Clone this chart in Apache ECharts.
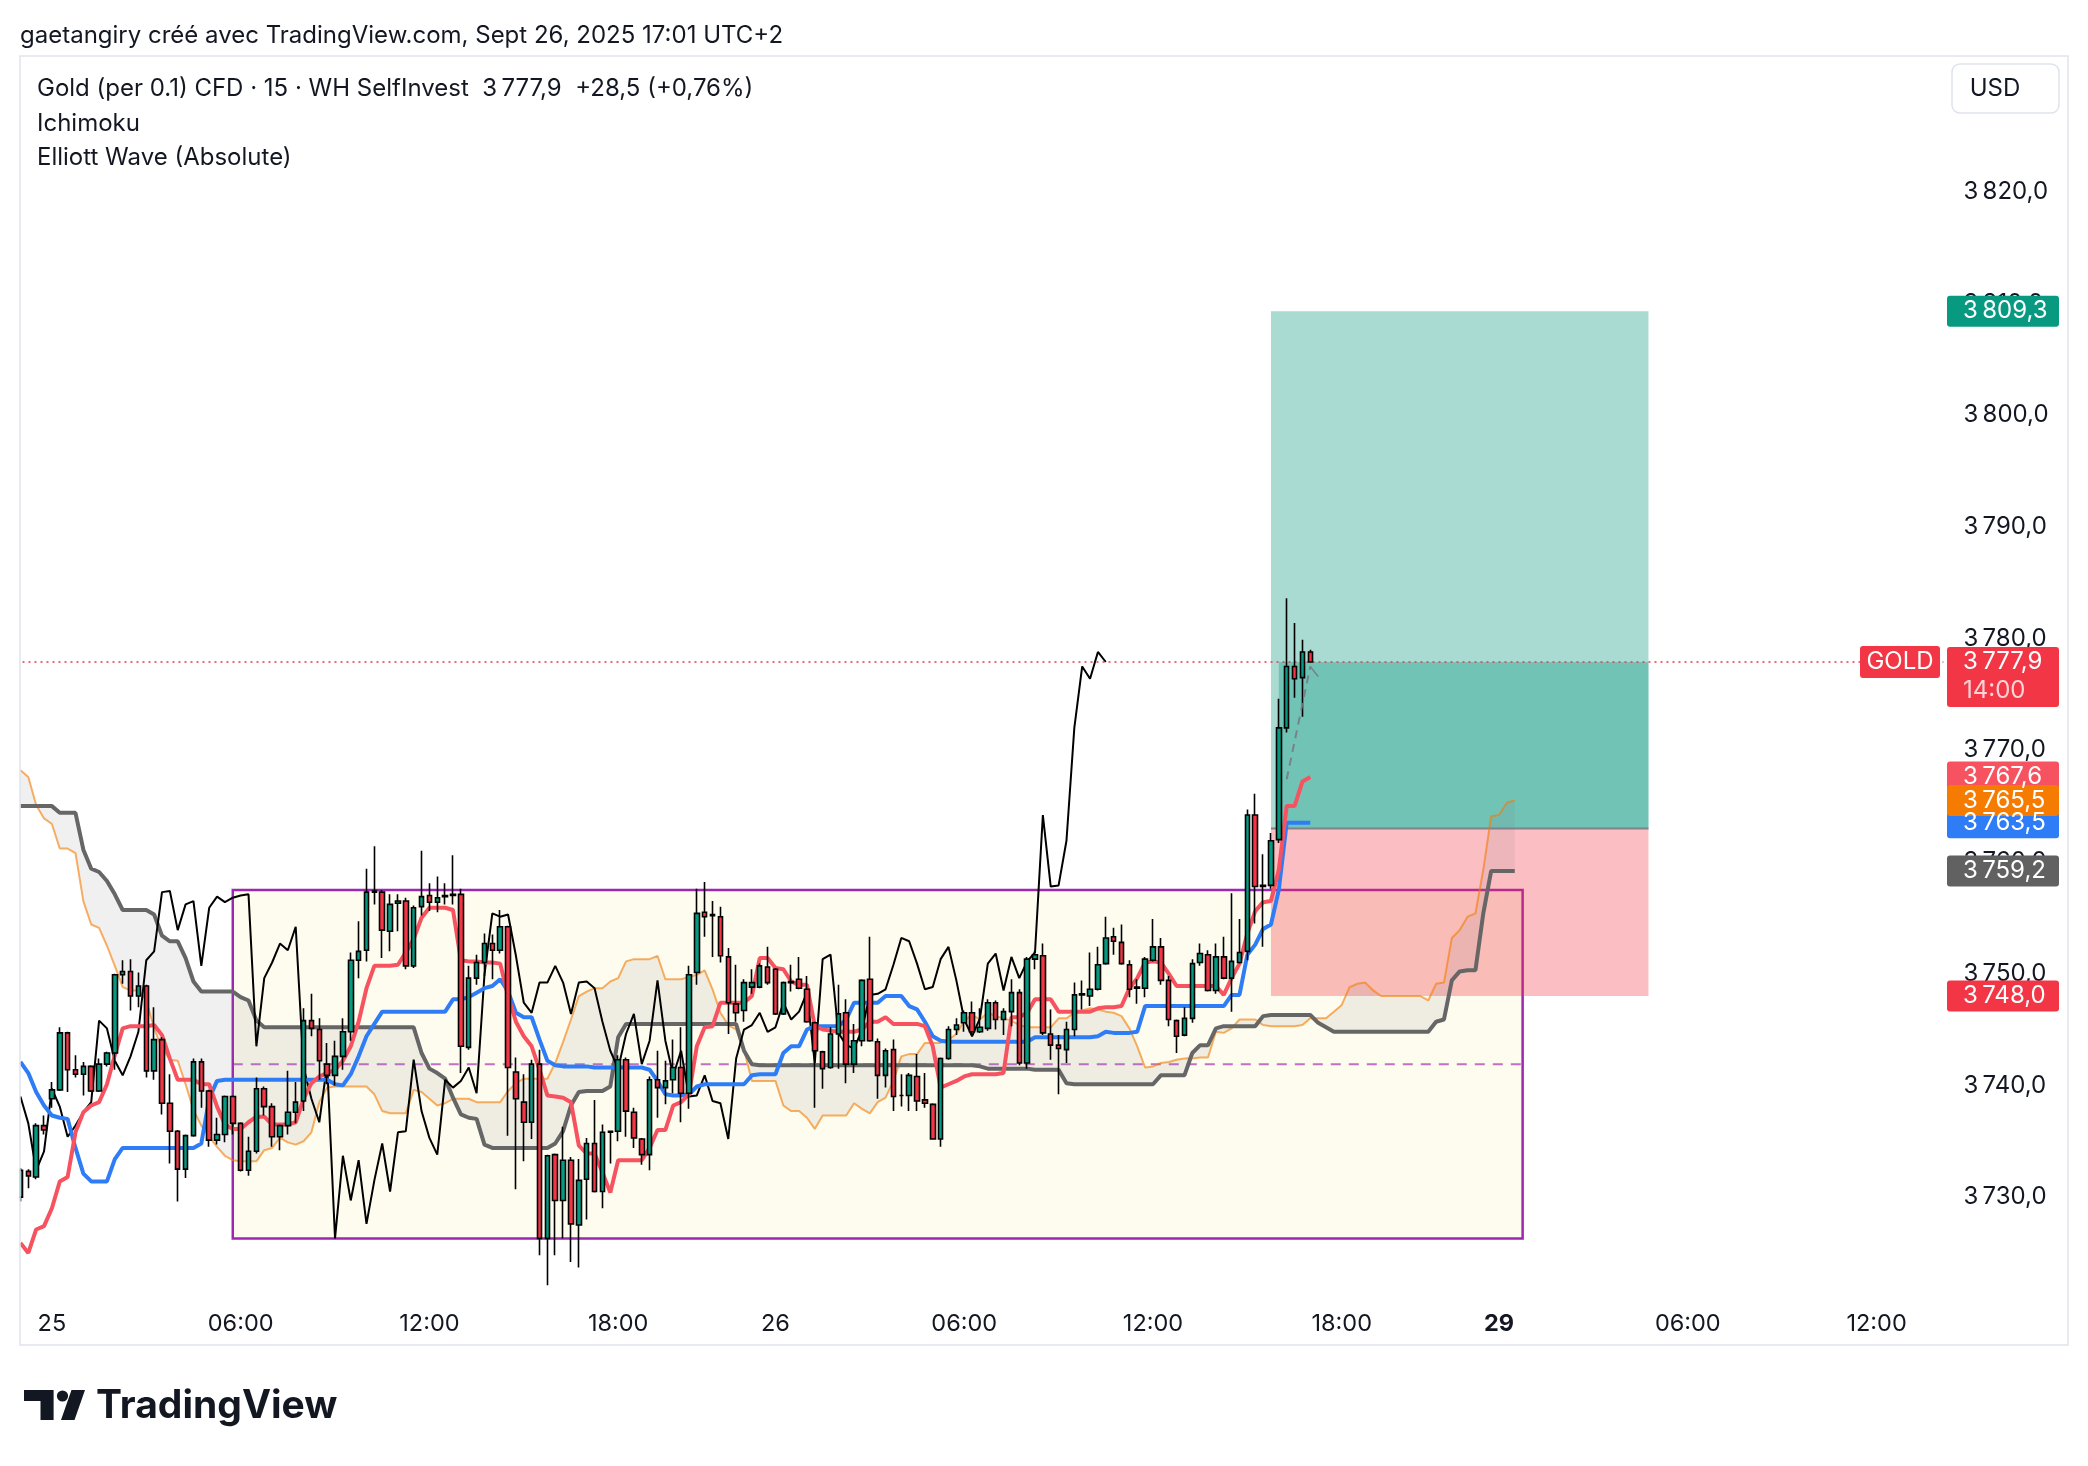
<!DOCTYPE html>
<html><head><meta charset="utf-8">
<script src="https://cdn.jsdelivr.net/npm/echarts@6/dist/echarts.min.js"></script>
<style>html,body{margin:0;padding:0;background:#fff}#c{width:2088px;height:1466px}</style>
</head><body><div id="c"></div><script>
const FONT = 'Inter, "Noto Sans", sans-serif';
function pad(n){return (n<10?'0':'')+n;}

// ---- time axis (15-minute bars; trading sessions) ----
const sessions = [['24', 88, 92], ['25', 0, 92], ['26', 0, 92], ['29', 0, 57]];
const categories = [];
sessions.forEach(s => { for (let q = s[1]; q < s[2]; q++) categories.push(s[0] + ' ' + pad(Math.floor(q/4)) + ':' + pad((q%4)*15)); });
const tickLabels = {'25 00:00':'25','25 06:00':'06:00','25 12:00':'12:00','25 18:00':'18:00','26 00:00':'26','26 06:00':'06:00','26 12:00':'12:00','26 18:00':'18:00','29 00:00':'29','29 06:00':'06:00','29 12:00':'12:00'};
const yTicks = [3730,3740,3750,3760,3770,3780,3790,3800,3810,3820];

// ---- candles (24 Sept 22:00 -> 26 Sept 17:00) ----
const candleOpen = [
3730.0,3732.3,3731.8,3736.4,3738.8,3739.6,3744.7,3741.4,3741.0,3741.7,
3739.5,3741.9,3742.9,3749.9,3750.2,3748.0,3748.9,3741.3,3744.1,3738.4,
3735.9,3732.5,3735.5,3742.1,3739.5,3735.1,3735.6,3739.0,3736.6,3732.4,
3734.1,3739.7,3738.1,3735.4,3736.4,3737.6,3738.6,3745.8,3745.0,3741.9,
3740.9,3742.6,3744.8,3751.2,3752.1,3757.3,3757.3,3753.8,3756.3,3756.5,
3750.7,3756.0,3757.0,3756.4,3756.9,3757.0,3757.1,3743.4,3749.6,3751.0,
3752.7,3752.1,3754.2,3741.2,3738.5,3736.7,3741.9,3726.3,3733.8,3729.7,
3733.3,3727.5,3731.6,3734.8,3730.5,3735.8,3735.9,3742.3,3737.6,3735.2,
3733.8,3740.5,3739.8,3740.5,3741.6,3739.3,3750.1,3755.5,3755.2,3755.1,
3751.5,3747.3,3746.7,3748.8,3748.8,3750.6,3750.4,3746.4,3749.2,3749.5,
3748.6,3745.6,3743.0,3741.6,3744.6,3746.5,3741.9,3744.0,3749.5,3743.9,
3740.9,3743.2,3739.1,3739.1,3740.8,3738.7,3738.3,3735.2,3742.4,3745.0,
3745.6,3746.5,3744.8,3745.1,3747.4,3745.9,3746.6,3748.3,3742.0,3751.3,
3751.6,3744.6,3743.6,3743.2,3745.0,3748.1,3748.0,3748.6,3750.9,3753.3,
3752.8,3750.8,3748.7,3748.7,3751.2,3752.4,3749.4,3745.8,3744.5,3746.0,
3751.0,3751.7,3748.5,3751.5,3749.6,3751.0,3752.0,3764.2,3757.8,3757.9,
3762.0,3772.0,3777.5,3776.5,3778.8];
const candleHigh = [
3732.6,3732.5,3736.6,3737.3,3740.3,3745.2,3744.8,3742.7,3742.1,3741.8,
3742.4,3743.0,3750.0,3751.2,3751.3,3750.1,3749.0,3747.0,3744.3,3741.0,
3736.0,3735.6,3742.4,3742.4,3739.6,3737.1,3739.1,3739.1,3736.7,3735.4,
3740.7,3739.9,3738.4,3736.5,3741.3,3740.3,3746.9,3748.2,3746.0,3743.8,
3744.0,3746.0,3751.9,3754.7,3759.4,3761.4,3757.5,3757.1,3757.1,3756.8,
3756.1,3761.0,3758.1,3758.7,3758.1,3760.6,3757.6,3750.7,3751.7,3753.6,
3753.5,3755.7,3754.3,3742.5,3741.0,3742.3,3743.2,3733.8,3733.9,3736.3,
3733.6,3733.4,3735.3,3738.7,3736.5,3735.9,3742.7,3742.5,3738.0,3735.3,
3740.8,3743.1,3742.2,3744.1,3745.2,3750.7,3757.6,3758.2,3756.5,3756.0,
3752.3,3750.8,3749.5,3750.4,3750.9,3752.4,3750.5,3749.3,3750.8,3751.5,
3749.8,3745.7,3743.1,3745.2,3749.0,3747.7,3745.5,3749.5,3753.3,3744.2,
3743.3,3744.1,3741.0,3741.1,3742.8,3741.1,3738.4,3742.5,3745.3,3746.0,
3746.7,3747.5,3746.9,3747.7,3747.6,3746.9,3749.5,3748.6,3751.5,3752.0,
3752.7,3746.8,3744.5,3745.7,3749.2,3749.4,3751.9,3752.4,3755.1,3754.1,
3754.4,3751.2,3749.5,3751.5,3754.9,3753.2,3749.8,3745.9,3747.0,3751.3,
3752.7,3752.1,3752.7,3753.3,3757.2,3754.9,3764.7,3766.1,3760.7,3762.6,
3774.6,3783.6,3781.4,3779.9,3779.0];
const candleLow = [
3729.6,3730.8,3731.6,3735.6,3738.0,3739.5,3739.4,3740.7,3739.1,3739.4,
3739.4,3741.7,3741.4,3749.1,3746.7,3747.0,3740.7,3740.5,3737.4,3733.0,
3729.6,3731.7,3735.4,3738.0,3734.5,3734.7,3734.9,3735.6,3732.3,3731.9,
3733.9,3737.3,3734.5,3734.2,3735.6,3736.6,3737.7,3744.4,3740.5,3740.1,
3740.0,3741.4,3744.0,3749.6,3751.1,3756.2,3751.4,3752.0,3753.8,3750.4,
3750.5,3755.2,3755.6,3755.5,3756.2,3756.2,3741.1,3743.2,3749.0,3749.8,
3749.5,3751.8,3735.5,3730.7,3733.2,3735.2,3724.8,3722.1,3724.8,3726.3,
3724.2,3723.7,3728.0,3730.4,3729.0,3733.0,3735.0,3735.4,3734.4,3732.9,
3732.4,3737.1,3738.3,3739.3,3736.7,3737.9,3749.0,3753.3,3751.5,3751.0,
3744.6,3745.7,3745.7,3748.2,3748.7,3749.0,3746.3,3746.3,3748.4,3748.6,
3745.6,3738.0,3739.7,3741.5,3741.5,3740.2,3741.1,3743.5,3743.9,3738.8,
3739.8,3737.7,3738.1,3737.7,3737.7,3738.0,3735.2,3734.5,3742.3,3744.5,
3744.8,3744.5,3744.7,3744.9,3745.0,3744.5,3745.3,3741.8,3741.5,3750.4,
3744.5,3742.3,3739.2,3742.0,3744.4,3746.8,3747.1,3748.5,3750.8,3751.7,
3750.8,3747.9,3747.3,3747.9,3751.1,3749.0,3745.3,3742.9,3744.4,3745.6,
3750.7,3748.4,3748.2,3749.5,3746.6,3750.9,3751.2,3754.5,3752.4,3757.6,
3761.7,3771.6,3774.7,3773.0,3777.9];
const candleClose = [
3732.4,3731.9,3736.4,3736.0,3739.6,3744.7,3741.4,3741.0,3741.7,3739.5,
3741.9,3742.9,3749.9,3750.2,3748.0,3748.9,3741.3,3744.1,3738.4,3735.9,
3732.5,3735.5,3742.1,3739.5,3735.1,3735.6,3739.0,3736.6,3732.4,3734.1,
3739.7,3738.1,3735.4,3736.4,3737.6,3738.5,3745.8,3745.1,3742.2,3740.9,
3742.6,3744.8,3751.2,3752.0,3757.3,3757.4,3753.9,3756.2,3756.5,3750.7,
3755.9,3756.9,3756.4,3756.8,3757.0,3757.1,3743.5,3749.6,3751.0,3752.7,
3752.1,3754.2,3741.6,3738.8,3736.7,3741.9,3726.3,3733.7,3729.7,3733.3,
3727.6,3731.5,3734.8,3730.5,3735.8,3735.9,3742.3,3737.7,3735.3,3733.8,
3740.5,3739.8,3740.4,3741.6,3739.3,3749.9,3755.4,3755.1,3755.3,3751.6,
3747.4,3746.5,3749.2,3749.2,3750.7,3749.2,3746.4,3749.2,3749.3,3748.7,
3745.7,3743.1,3741.5,3744.6,3746.4,3741.9,3744.0,3749.4,3744.0,3740.9,
3743.1,3739.0,3739.1,3740.9,3738.6,3738.4,3735.2,3742.4,3745.0,3745.4,
3746.5,3744.8,3745.2,3747.4,3745.9,3746.6,3748.3,3742.0,3751.3,3751.7,
3744.7,3743.6,3743.3,3745.0,3748.1,3748.2,3748.6,3750.8,3753.2,3752.9,
3750.9,3748.6,3748.8,3751.3,3752.4,3749.4,3745.9,3744.4,3746.0,3750.9,
3751.8,3748.5,3751.5,3749.6,3751.1,3751.9,3764.2,3757.8,3757.9,3761.9,
3772.0,3777.5,3776.4,3778.8,3777.9];

// ---- Ichimoku lines ----
const tenkan = [
3725.9,3725.0,3727.1,3727.4,3729.0,3731.4,3731.8,3735.8,3737.6,3738.2,
3738.5,3740.1,3742.7,3745.1,3745.3,3745.3,3745.3,3745.4,3744.5,3742.4,
3740.5,3740.5,3740.5,3740.1,3740.1,3738.1,3736.5,3736.1,3736.1,3736.7,
3737.2,3737.2,3736.5,3736.5,3736.5,3736.7,3738.8,3740.2,3740.8,3741.1,
3741.4,3742.2,3743.5,3745.7,3748.7,3750.7,3750.7,3750.7,3750.8,3751.9,
3753.1,3755.0,3755.9,3755.9,3755.9,3755.7,3751.2,3751.1,3751.1,3751.0,
3751.0,3750.9,3748.0,3745.7,3744.4,3743.5,3741.4,3739.1,3739.0,3738.9,
3738.5,3734.6,3733.9,3733.9,3732.2,3730.4,3733.3,3733.3,3733.3,3733.3,
3734.4,3736.0,3736.0,3738.2,3738.5,3739.2,3743.5,3745.2,3745.3,3747.4,
3747.4,3747.4,3747.4,3748.0,3751.4,3751.4,3750.5,3750.4,3749.3,3749.0,
3749.0,3745.3,3745.0,3744.9,3744.8,3744.8,3744.8,3745.0,3745.7,3745.7,
3746.1,3745.5,3745.5,3745.5,3745.5,3745.3,3743.5,3739.8,3740.1,3740.4,
3740.8,3741.0,3741.0,3741.0,3741.0,3741.1,3746.1,3746.1,3746.5,3747.7,
3747.7,3747.7,3746.6,3746.6,3746.6,3746.6,3746.6,3746.9,3747.0,3747.0,
3747.1,3748.7,3749.6,3751.0,3751.1,3751.0,3750.0,3748.9,3748.9,3748.9,
3748.9,3748.9,3748.9,3748.1,3749.6,3750.9,3753.6,3755.6,3756.4,3756.5,
3759.3,3765.0,3765.0,3767.2,3767.6];
const kijun = [
3742.1,3741.1,3739.4,3738.2,3737.3,3737.1,3737.0,3734.4,3732.1,3731.4,
3731.4,3731.4,3733.4,3734.4,3734.4,3734.4,3734.4,3734.4,3734.4,3734.4,
3734.4,3734.4,3734.4,3734.8,3738.8,3740.4,3740.5,3740.5,3740.5,3740.5,
3740.5,3740.5,3740.5,3740.5,3740.5,3740.5,3740.5,3740.5,3740.5,3740.5,
3740.1,3740.0,3741.0,3742.6,3744.4,3745.5,3746.6,3746.6,3746.6,3746.6,
3746.6,3746.6,3746.6,3746.6,3746.6,3747.7,3747.7,3747.9,3748.3,3748.7,
3748.9,3749.5,3748.4,3746.5,3746.1,3746.1,3744.1,3742.2,3741.8,3741.7,
3741.7,3741.7,3741.7,3741.6,3741.6,3741.6,3741.6,3741.6,3741.6,3741.6,
3741.4,3740.4,3739.2,3739.1,3739.1,3739.2,3739.9,3740.1,3740.1,3740.1,
3740.1,3740.1,3740.1,3740.9,3741.0,3741.0,3741.0,3742.9,3743.5,3743.5,
3745.0,3745.3,3745.3,3745.3,3745.3,3745.9,3747.4,3747.4,3747.4,3747.4,
3748.0,3748.0,3748.0,3747.1,3746.8,3745.7,3744.4,3744.0,3743.9,3743.9,
3743.9,3743.9,3743.9,3743.9,3743.9,3743.9,3743.9,3743.9,3743.9,3744.3,
3744.3,3744.3,3744.3,3744.3,3744.3,3744.3,3744.3,3744.4,3744.8,3744.7,
3744.7,3744.7,3744.8,3747.1,3747.1,3747.1,3747.1,3747.1,3747.1,3747.1,
3747.1,3747.1,3747.1,3747.1,3748.1,3748.1,3751.7,3752.6,3754.0,3754.4,
3757.5,3763.5,3763.5,3763.5,3763.5];
const spanA = [
3768.2,3767.6,3765.1,3763.9,3763.4,3761.2,3761.2,3760.8,3756.5,3754.4,
3754.1,3752.5,3750.7,3748.8,3748.5,3748.5,3747.6,3745.1,3743.3,3742.3,
3742.2,3740.1,3737.8,3736.4,3735.4,3734.5,3733.7,3733.3,3733.2,3733.2,
3733.2,3734.2,3734.4,3735.3,3734.9,3734.7,3735.0,3735.8,3738.5,3739.8,
3739.9,3739.9,3739.9,3739.9,3739.9,3739.2,3737.7,3737.5,3737.5,3737.5,
3739.6,3739.4,3738.8,3738.2,3738.4,3738.8,3738.8,3738.8,3738.5,3738.5,
3738.5,3738.5,3739.5,3740.2,3740.6,3740.6,3740.6,3740.6,3742.0,3743.9,
3745.9,3748.0,3748.4,3748.7,3748.7,3749.3,3749.6,3751.1,3751.3,3751.3,
3751.3,3751.6,3749.5,3749.5,3749.5,3749.7,3749.9,3750.3,3748.6,3746.5,
3745.4,3745.0,3743.2,3740.4,3740.4,3740.4,3740.4,3738.2,3737.7,3737.7,
3737.1,3736.1,3737.3,3737.3,3737.3,3737.3,3738.4,3737.9,3737.5,3738.5,
3738.9,3740.4,3742.6,3742.8,3742.8,3743.8,3743.8,3743.8,3744.1,3744.6,
3745.8,3746.3,3745.9,3746.5,3746.2,3746.0,3745.8,3745.4,3745.2,3745.2,
3745.2,3745.2,3746.0,3746.0,3746.5,3746.7,3746.9,3746.8,3746.6,3746.5,
3746.2,3745.1,3743.5,3741.6,3741.7,3742.0,3742.1,3742.3,3742.4,3742.4,
3742.5,3742.5,3744.8,3744.7,3745.1,3745.9,3745.9,3745.9,3745.4,3745.3,
3745.3,3745.3,3745.3,3745.4,3746.0,3746.0,3746.0,3746.6,3747.2,3748.8,
3749.1,3749.2,3748.5,3748.0,3748.0,3748.0,3748.0,3748.0,3748.0,3747.6,
3749.1,3749.2,3753.2,3753.9,3755.1,3755.4,3759.3,3764.1,3764.2,3765.3,
3765.5];
const spanB = [
3765.0,3765.0,3765.0,3765.0,3765.0,3764.4,3764.4,3764.4,3761.1,3759.4,
3759.1,3758.3,3757.1,3755.7,3755.7,3755.7,3755.7,3755.3,3753.4,3752.9,
3752.9,3751.4,3749.3,3748.4,3748.4,3748.4,3748.4,3748.4,3747.9,3747.6,
3745.8,3745.2,3745.2,3745.2,3745.2,3745.2,3745.2,3745.2,3745.2,3745.2,
3745.2,3745.2,3745.2,3745.2,3745.2,3745.2,3745.2,3745.2,3745.2,3745.2,
3745.2,3742.9,3741.5,3741.1,3740.6,3738.9,3737.4,3737.1,3737.0,3734.7,
3734.4,3734.4,3734.4,3734.4,3734.4,3734.4,3734.4,3734.4,3734.8,3735.9,
3738.2,3739.4,3739.5,3739.5,3739.5,3739.9,3744.3,3745.5,3745.5,3745.5,
3745.5,3745.5,3745.5,3745.5,3745.5,3745.5,3745.5,3745.5,3745.5,3745.5,
3745.5,3745.5,3743.1,3741.9,3741.8,3741.8,3741.8,3741.8,3741.8,3741.8,
3741.8,3741.8,3741.8,3741.8,3741.8,3741.8,3741.8,3741.8,3741.8,3741.8,
3741.8,3741.8,3741.8,3741.8,3741.8,3741.8,3741.8,3741.8,3741.8,3741.8,
3741.8,3741.8,3741.7,3741.5,3741.5,3741.5,3741.5,3741.5,3741.5,3741.4,
3741.4,3741.4,3741.4,3740.2,3740.1,3740.1,3740.1,3740.1,3740.1,3740.1,
3740.1,3740.1,3740.1,3740.1,3740.1,3740.9,3740.9,3740.9,3740.9,3742.9,
3743.6,3743.6,3745.1,3745.3,3745.3,3745.3,3745.3,3745.3,3746.2,3746.3,
3746.3,3746.3,3746.3,3746.3,3746.3,3745.6,3745.2,3744.8,3744.8,3744.8,
3744.8,3744.8,3744.8,3744.8,3744.8,3744.8,3744.8,3744.8,3744.8,3744.8,
3745.7,3745.9,3749.4,3750.2,3750.3,3750.3,3755.4,3759.2,3759.2,3759.2,
3759.2];
const chikouShift = 26;

// ---- drawings ----
const zoneBox = ['25 05:45', '29 00:45', 3757.5, 3726.3];
const zoneMid = 3741.9;
const positionStart = '26 15:45', positionEnd = '29 04:45', pnlStart = '26 16:00';
const entryPrice = 3763.0, stopPrice = 3748.0, targetPrice = 3809.3;
const lastPrice = 3777.9;
const ewDash = [['26 16:15', 3767.4], ['26 17:00', 3777.5]];
const ewTail = [['26 17:00', 3777.5], ['26 17:15', 3776.6]];

function fmt(v){ const s = v.toFixed(1).replace('.', ','); return s.length > 5 ? s.slice(0, s.length-5) + '\u2009' + s.slice(-5) : s; }
function ci(name){ return categories.indexOf(name); }

const candleData = candleOpen.map((o,i) => [o, candleClose[i], candleLow[i], candleHigh[i]]);
const chikou = categories.map((c,k) => (k + chikouShift < candleClose.length) ? candleClose[k + chikouShift] : '-');
const cloudLow = spanA.map((a,i) => Math.min(a, spanB[i]));
const cloudGap = spanA.map((a,i) => Math.abs(a - spanB[i]));

function rectSeries(id, items, style, z){
  return {type:'custom', id, z, silent:true, clip:true,
    data: items.map(r => [ci(r[0]), ci(r[1]), r[2], r[3]]),
    encode:{x:[0,1], y:[2,3]},
    renderItem:(p, api) => {
      const a = api.coord([api.value(0), api.value(2)]);
      const b = api.coord([api.value(1), api.value(3)]);
      return {type:'rect', shape:{x:Math.min(a[0],b[0]), y:Math.min(a[1],b[1]), width:Math.abs(b[0]-a[0]), height:Math.abs(b[1]-a[1])}, style: style};
    }};
}
function segSeries(id, items, style, z){
  return {type:'custom', id, z, silent:true, clip:true,
    data: items.map(r => [ci(r[0]), ci(r[1]), r[2], r[3]]),
    encode:{x:[0,1], y:[2,3]},
    renderItem:(p, api) => {
      const a = api.coord([api.value(0), api.value(2)]);
      const b = api.coord([api.value(1), api.value(3)]);
      return {type:'line', shape:{x1:a[0], y1:a[1], x2:b[0], y2:b[1]}, style: style};
    }};
}
function lineSeries(id, data, color, width, z, extra){
  return Object.assign({type:'line', id, data, z, symbol:'none', silent:true, smooth:false,
    lineStyle:{color, width}}, extra || {});
}

const chart = echarts.init(document.getElementById('c'), null, {width:2088, height:1466});
chart.setOption({
  animation:false,
  backgroundColor:'#ffffff',
  grid:{left:16.5, right:144.6, top:80, bottom:157.2},
  xAxis:{type:'category', data:categories, boundaryGap:true,
    axisLine:{show:false}, axisTick:{show:false}, splitLine:{show:false},
    axisLabel:{interval:(i, v) => tickLabels[v] !== undefined,
      formatter:(v) => v === '29 00:00' ? '{b|29}' : (tickLabels[v] || ''),
      fontSize:23.5, color:'#131722', fontFamily:FONT, margin:3,
      rich:{b:{fontSize:23.5, fontWeight:'bold', color:'#131722', fontFamily:FONT}}}},
  yAxis:{type:'value', position:'right', min:3720, max:3830, interval:10,
    splitLine:{show:false}, axisLine:{show:false}, axisTick:{show:false},
    axisLabel:{formatter:(v) => yTicks.indexOf(v) >= 0 ? fmt(v) : '', fontSize:24, color:'#131722', fontFamily:FONT, margin:20}},
  series:[
    rectSeries('zone', [zoneBox], {fill:'#FEFCEE', stroke:'#9C27B0', lineWidth:2.5}, 1),
    segSeries('zoneMid', [[zoneBox[0], zoneBox[1], zoneMid, zoneMid]], {stroke:'rgba(156,39,176,0.65)', lineWidth:2, lineDash:[10,8]}, 1),
    rectSeries('target', [[positionStart, positionEnd, targetPrice, entryPrice]], {fill:'rgba(8,153,129,0.35)'}, 2),
    rectSeries('stop', [[positionStart, positionEnd, entryPrice, stopPrice]], {fill:'rgba(242,54,69,0.32)'}, 2),
    rectSeries('pnl', [[pnlStart, positionEnd, lastPrice, entryPrice]], {fill:'rgba(8,153,129,0.35)'}, 2),
    segSeries('entry', [[positionStart, positionEnd, entryPrice, entryPrice]], {stroke:'rgba(120,123,134,0.9)', lineWidth:2}, 2),
    lineSeries('cloudLow', cloudLow, 'rgba(0,0,0,0)', 0, 3, {stack:'cloud'}),
    lineSeries('cloudGap', cloudGap, 'rgba(0,0,0,0)', 0, 3, {stack:'cloud', areaStyle:{color:'rgba(120,123,134,0.16)'}}),
    lineSeries('spanA', spanA, 'rgba(245,124,0,0.6)', 2, 4),
    lineSeries('spanB', spanB, '#666666', 4, 4),
    lineSeries('chikou', chikou, '#000000', 2, 4),
    lineSeries('kijun', kijun, '#2E7CF6', 4, 4),
    lineSeries('tenkan', tenkan, '#F7525F', 4, 4),
    {type:'candlestick', id:'price', z:5, data:candleData, barWidth:5, silent:true,
      itemStyle:{color:'#089981', color0:'#F23645', borderColor:'#000', borderColor0:'#000', borderColorDoji:'#000', borderWidth:1.6},
      markLine:{silent:true, symbol:['none','none'], label:{show:false},
        lineStyle:{color:'#F23645', type:[2,4], width:1.5}, data:[{yAxis:lastPrice}]}},
    lineSeries('ewDash', ewDash, 'rgba(120,123,134,0.9)', 2, 6, {lineStyle:{color:'rgba(120,123,134,0.9)', width:2, type:[8,6]}}),
    lineSeries('ewTail', ewTail, 'rgba(120,123,134,0.9)', 1.5, 6)
  ]
});

// ---- texts, axis tags, frame ----
const yPix = v => chart.convertToPixel({yAxisIndex:0}, v);
const g = [];
function txt(x, y, text, size, color, extra){
  return {type:'text', z:110, x, y, style:Object.assign({text, fontSize:size, fontFamily:FONT, fill:color, verticalAlign:'middle', align:'left'}, extra || {})};
}
g.push({type:'rect', z:100, shape:{x:0, y:50, width:19.5, height:1300}, style:{fill:'#fff'}});
g.push({type:'rect', z:101, shape:{x:20, y:56, width:2048, height:1289}, style:{fill:null, stroke:'#E0E3EB', lineWidth:1.5}});
g.push(txt(20, 36, 'gaetangiry créé avec TradingView.com, Sept 26, 2025 17:01 UTC+2', 24, '#131722'));
g.push(txt(37, 89, 'Gold (per 0.1) CFD · 15 · WH SelfInvest  ' + fmt(lastPrice) + '  +28,5 (+0,76%)', 24, '#131722'));
g.push(txt(37, 124, 'Ichimoku', 24, '#131722'));
g.push(txt(37, 158, 'Elliott Wave (Absolute)', 24, '#131722'));
g.push({type:'rect', z:105, shape:{x:1952, y:64, width:107, height:49, r:8}, style:{fill:'#fff', stroke:'#E0E3EB', lineWidth:1.5}});
g.push(txt(1995, 88.5, 'USD', 24, '#131722', {align:'center'}));

function tag(value, color){
  const y = yPix(value);
  g.push({type:'rect', z:106, shape:{x:1947, y:y-15.5, width:112, height:31, r:3}, style:{fill:color}});
  g.push(txt(1963, y, fmt(value), 24, '#ffffff'));
}
tag(targetPrice, '#089981');
tag(tenkan[tenkan.length-1], '#F7525F');
tag(kijun[kijun.length-1], '#2E7CF6');
tag(spanA[spanA.length-1], '#F57C00');
tag(spanB[spanB.length-1], '#616161');
tag(stopPrice, '#F23645');
const yl = yPix(lastPrice);
g.push({type:'rect', z:106, shape:{x:1947, y:yl-15, width:112, height:60, r:3}, style:{fill:'#F23645'}});
g.push(txt(1963, yl, fmt(lastPrice), 24, '#ffffff'));
g.push(txt(1963, yl+29, '14:00', 24, 'rgba(255,255,255,0.78)'));
g.push({type:'rect', z:106, shape:{x:1860, y:yl-16, width:80, height:32, r:3}, style:{fill:'#F23645'}});
g.push(txt(1900, yl, 'GOLD', 24, '#ffffff', {align:'center'}));

// logo
g.push({type:'polygon', z:110, shape:{points:[[24,1390],[53.6,1390],[53.6,1420],[40.5,1420],[40.5,1401],[24,1401]]}, style:{fill:'#131722'}});
g.push({type:'circle', z:110, shape:{cx:62.5, cy:1396, r:5.6}, style:{fill:'#131722'}});
g.push({type:'polygon', z:110, shape:{points:[[61,1420],[74.5,1420],[85,1390],[71.5,1390]]}, style:{fill:'#131722'}});
g.push(txt(96, 1406, 'TradingView', 39, '#131722', {fontWeight:'bold'}));

const lens = [candleOpen.length, candleHigh.length, candleLow.length, candleClose.length, tenkan.length, kijun.length, spanA.length, spanB.length];
if (lens.join(',') !== '165,165,165,165,165,165,191,191') g.push(txt(600, 300, 'LEN ' + lens.join(','), 30, 'red'));

chart.setOption({graphic: g});
</script></body></html>
